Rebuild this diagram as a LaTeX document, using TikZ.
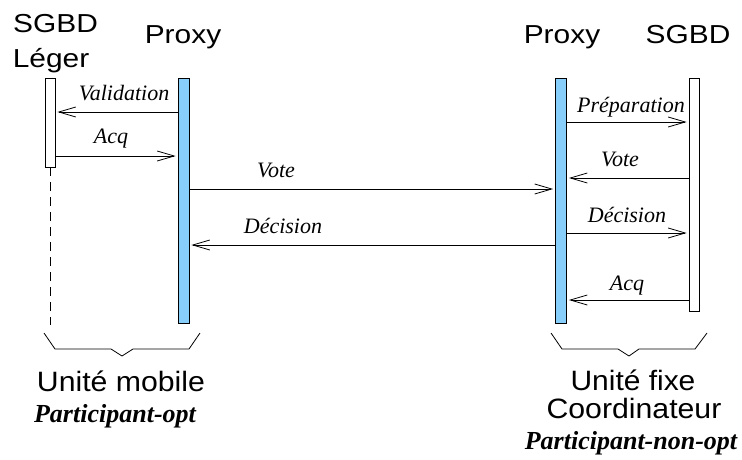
\documentclass[tikz,border=0pt]{standalone}
\usepackage{fontspec}
\setmainfont{Liberation Serif}
\newfontfamily\sansf{Liberation Sans}
\usetikzlibrary{arrows.meta}
\definecolor{proxyblue}{RGB}{135,206,250}
\begin{document}
\begin{tikzpicture}[x=1pt,y=-1pt,
  life/.style={draw=black, line width=0.8pt, rectangle, inner sep=0pt, minimum width=10pt},
  proxybar/.style={life, fill=proxyblue, minimum width=11pt},
  msg/.style={line width=0.8pt, -{Straight Barb[length=17pt,width=10pt]}, shorten >=2pt},
  lbl/.style={font=\fontsize{22}{26}\selectfont\itshape, anchor=base, inner sep=0pt},
  head/.style={font=\fontsize{26}{30}\selectfont\sansf, anchor=base, inner sep=0pt},
  foot/.style={font=\fontsize{28}{32}\selectfont\sansf, anchor=base, inner sep=0pt},
  role/.style={font=\fontsize{26}{30}\selectfont\bfseries\itshape, anchor=base, inner sep=0pt},
  brace/.style={line width=0.8pt, line join=miter}]
\useasboundingbox (0,0) rectangle (742,460);

% headers
\node[head] (hSgbdL1) at (55.5,33) {\scalebox{1.15}[1]{SGBD}};
\node[head] (hSgbdL2) at (51,67) {\scalebox{1.15}[1]{Léger}};
\node[head] (hProxyL) at (183,44) {\scalebox{1.15}[1]{Proxy}};
\node[head] (hProxyR) at (562,44) {\scalebox{1.15}[1]{Proxy}};
\node[head] (hSgbdR) at (688,44) {\scalebox{1.15}[1]{SGBD}};

% lifelines
\node[life, minimum height=89pt] (sgbdL) at (50,122.5) {};
\node[proxybar, minimum height=245pt] (proxyL) at (183.5,200.5) {};
\node[proxybar, minimum height=245pt] (proxyR) at (561,200.5) {};
\node[life, minimum height=233pt] (sgbdR) at (694,194.5) {};
\coordinate (sgbdLend) at (50,325);
\draw[line width=0.8pt, dash pattern=on 9pt off 6pt] (sgbdL.south) -- (sgbdLend);

% messages left
\draw[msg] (proxyL.west |- 0,112) -- (sgbdL.east |- 0,112);
\node[lbl] (tValid) at (124,100) {Validation};
\draw[msg] (sgbdL.east |- 0,156) -- (proxyL.west |- 0,156);
\node[lbl] (tAcqL) at (111,143) {Acq};

% messages middle
\draw[msg] (proxyL.east |- 0,189) -- (proxyR.west |- 0,189);
\node[lbl] (tVoteM) at (276,177) {Vote};
\draw[msg] (proxyR.west |- 0,245) -- (proxyL.east |- 0,245);
\node[lbl] (tDecM) at (283,233) {Décision};

% messages right
\draw[msg] (proxyR.east |- 0,122) -- (sgbdR.west |- 0,122);
\node[lbl] (tPrep) at (631,112) {Préparation};
\draw[msg] (sgbdR.west |- 0,178) -- (proxyR.east |- 0,178);
\node[lbl] (tVoteR) at (620,166) {Vote};
\draw[msg] (proxyR.east |- 0,233) -- (sgbdR.west |- 0,233);
\node[lbl] (tDecR) at (627,222) {Décision};
\draw[msg] (sgbdR.west |- 0,300) -- (proxyR.east |- 0,300);
\node[lbl] (tAcqR) at (627,290) {Acq};

% braces
\draw[brace] (44,333) -- (55,349) -- (111,349) -- (122,356) -- (133,349) -- (189,349) -- (200,333);
\draw[brace] (551,333) -- (562,349) -- (618,349) -- (629,356) -- (639,349) -- (695,349) -- (707,333);

% footers
\node[foot] (fMobile) at (121,391) {\scalebox{1.08}[1]{Unité mobile}};
\node[role] (rOpt) at (115,422) {Participant-opt};
\node[foot] (fFixe) at (633,390) {\scalebox{1.07}[1]{Unité fixe}};
\node[foot] (fCoord) at (634,418) {\scalebox{1.08}[1]{Coordinateur}};
\node[role] (rNonOpt) at (631,449) {Participant-non-opt};
\end{tikzpicture}
\end{document}
